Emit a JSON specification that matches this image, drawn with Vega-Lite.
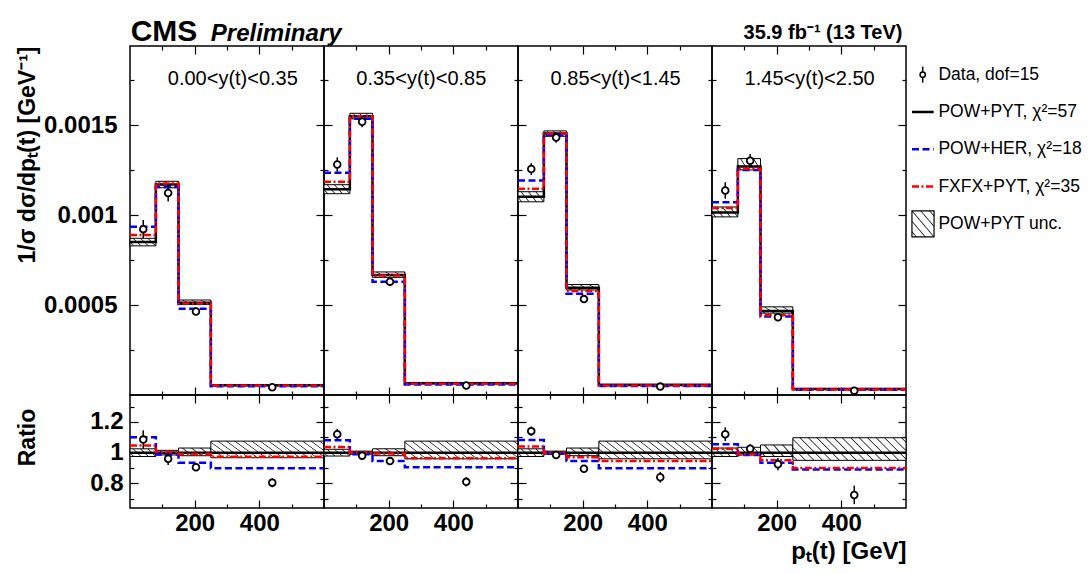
{
  "$schema": "https://vega.github.io/schema/vega-lite/v6.json",
  "background": "#ffffff",
  "padding": {"left": 15, "top": 16, "right": 0, "bottom": 0},
  "datasets": {
    "bins": [
      {"p": 1, "b": 1, "lo": 0, "hi": 80, "xd": 41, "dat": 0.000922, "dlo": 0.000871, "dhi": 0.000973, "ulo": 0.000829, "uhi": 0.000871, "rdat": 1.085, "rdlo": 1.025, "rdhi": 1.145, "rulo": 0.975, "ruhi": 1.025},
      {"p": 1, "b": 2, "lo": 80, "hi": 150, "xd": 118, "dat": 0.001123, "dlo": 0.001076, "dhi": 0.00117, "ulo": 0.001152, "uhi": 0.001188, "rdat": 0.96, "rdlo": 0.92, "rdhi": 1.0, "rulo": 0.985, "ruhi": 1.015},
      {"p": 1, "b": 3, "lo": 150, "hi": 250, "xd": 204, "dat": 0.000464, "dlo": 0.000454, "dhi": 0.000474, "ulo": 0.000503, "uhi": 0.000528, "rdat": 0.905, "rdlo": 0.885, "rdhi": 0.925, "rulo": 0.98, "ruhi": 1.03},
      {"p": 1, "b": 4, "lo": 250, "hi": 600, "xd": 440, "dat": 0.0000432, "dlo": 0.0000416, "dhi": 0.0000448, "ulo": 0.0000519, "uhi": 0.0000577, "rdat": 0.805, "rdlo": 0.775, "rdhi": 0.835, "rulo": 0.967, "ruhi": 1.075},
      {"p": 2, "b": 1, "lo": 0, "hi": 80, "xd": 41, "dat": 0.001281, "dlo": 0.001241, "dhi": 0.001321, "ulo": 0.001119, "uhi": 0.001169, "rdat": 1.12, "rdlo": 1.085, "rdhi": 1.155, "rulo": 0.978, "ruhi": 1.022},
      {"p": 2, "b": 2, "lo": 80, "hi": 150, "xd": 118, "dat": 0.001519, "dlo": 0.001488, "dhi": 0.00155, "ulo": 0.001535, "uhi": 0.001566, "rdat": 0.98, "rdlo": 0.96, "rdhi": 1.0, "rulo": 0.99, "ruhi": 1.01},
      {"p": 2, "b": 3, "lo": 150, "hi": 250, "xd": 204, "dat": 0.00063, "dlo": 0.000617, "dhi": 0.000643, "ulo": 0.000654, "uhi": 0.000684, "rdat": 0.945, "rdlo": 0.925, "rdhi": 0.965, "rulo": 0.98, "ruhi": 1.025},
      {"p": 2, "b": 4, "lo": 250, "hi": 600, "xd": 440, "dat": 0.0000524, "dlo": 0.0000505, "dhi": 0.0000543, "ulo": 0.0000621, "uhi": 0.0000696, "rdat": 0.81, "rdlo": 0.78, "rdhi": 0.84, "rulo": 0.96, "ruhi": 1.075},
      {"p": 3, "b": 1, "lo": 0, "hi": 80, "xd": 41, "dat": 0.001256, "dlo": 0.001223, "dhi": 0.001289, "ulo": 0.001074, "uhi": 0.00113, "rdat": 1.14, "rdlo": 1.11, "rdhi": 1.17, "rulo": 0.975, "ruhi": 1.025},
      {"p": 3, "b": 2, "lo": 80, "hi": 150, "xd": 118, "dat": 0.001431, "dlo": 0.001402, "dhi": 0.00146, "ulo": 0.001438, "uhi": 0.001468, "rdat": 0.985, "rdlo": 0.965, "rdhi": 1.005, "rulo": 0.99, "ruhi": 1.01},
      {"p": 3, "b": 3, "lo": 150, "hi": 250, "xd": 204, "dat": 0.000533, "dlo": 0.000521, "dhi": 0.000545, "ulo": 0.000584, "uhi": 0.000614, "rdat": 0.895, "rdlo": 0.875, "rdhi": 0.915, "rulo": 0.98, "ruhi": 1.03},
      {"p": 3, "b": 4, "lo": 250, "hi": 600, "xd": 440, "dat": 0.0000467, "dlo": 0.0000448, "dhi": 0.0000486, "ulo": 0.0000534, "uhi": 0.0000598, "rdat": 0.84, "rdlo": 0.805, "rdhi": 0.875, "rulo": 0.96, "ruhi": 1.075},
      {"p": 4, "b": 1, "lo": 0, "hi": 80, "xd": 41, "dat": 0.001137, "dlo": 0.001091, "dhi": 0.001183, "ulo": 0.00099, "uhi": 0.001045, "rdat": 1.12, "rdlo": 1.075, "rdhi": 1.165, "rulo": 0.975, "ruhi": 1.03},
      {"p": 4, "b": 2, "lo": 80, "hi": 150, "xd": 118, "dat": 0.001302, "dlo": 0.001264, "dhi": 0.00134, "ulo": 0.001251, "uhi": 0.001314, "rdat": 1.025, "rdlo": 0.995, "rdhi": 1.055, "rulo": 0.985, "ruhi": 1.035},
      {"p": 4, "b": 3, "lo": 150, "hi": 250, "xd": 204, "dat": 0.000432, "dlo": 0.000413, "dhi": 0.000451, "ulo": 0.000455, "uhi": 0.00049, "rdat": 0.925, "rdlo": 0.885, "rdhi": 0.965, "rulo": 0.975, "ruhi": 1.05},
      {"p": 4, "b": 4, "lo": 250, "hi": 600, "xd": 440, "dat": 0.0000241, "dlo": 0.0000221, "dhi": 0.0000261, "ulo": 0.0000316, "uhi": 0.0000365, "rdat": 0.725, "rdlo": 0.665, "rdhi": 0.785, "rulo": 0.95, "ruhi": 1.097}
    ],
    "steps": [
      {"p": 1, "edge": 0, "pyt": 0.00085, "her": 0.000935, "fxfx": 0.00089, "rher": 1.1, "rfxfx": 1.047},
      {"p": 1, "edge": 80, "pyt": 0.00117, "her": 0.001156, "fxfx": 0.001176, "rher": 0.988, "rfxfx": 1.005},
      {"p": 1, "edge": 150, "pyt": 0.000513, "her": 0.00048, "fxfx": 0.000508, "rher": 0.935, "rfxfx": 0.99},
      {"p": 1, "edge": 250, "pyt": 0.0000537, "her": 0.0000482, "fxfx": 0.0000523, "rher": 0.898, "rfxfx": 0.974},
      {"p": 1, "edge": 600, "pyt": 0.0000537, "her": 0.0000482, "fxfx": 0.0000523, "rher": 0.898, "rfxfx": 0.974},
      {"p": 2, "edge": 0, "pyt": 0.001144, "her": 0.001236, "fxfx": 0.001186, "rher": 1.08, "rfxfx": 1.037},
      {"p": 2, "edge": 80, "pyt": 0.00155, "her": 0.001535, "fxfx": 0.00155, "rher": 0.99, "rfxfx": 1.0},
      {"p": 2, "edge": 150, "pyt": 0.000667, "her": 0.00063, "fxfx": 0.000664, "rher": 0.945, "rfxfx": 0.995},
      {"p": 2, "edge": 250, "pyt": 0.0000647, "her": 0.0000586, "fxfx": 0.0000623, "rher": 0.905, "rfxfx": 0.963},
      {"p": 2, "edge": 600, "pyt": 0.0000647, "her": 0.0000586, "fxfx": 0.0000623, "rher": 0.905, "rfxfx": 0.963},
      {"p": 3, "edge": 0, "pyt": 0.001102, "her": 0.001193, "fxfx": 0.001146, "rher": 1.083, "rfxfx": 1.04},
      {"p": 3, "edge": 80, "pyt": 0.001453, "her": 0.001446, "fxfx": 0.001453, "rher": 0.995, "rfxfx": 1.0},
      {"p": 3, "edge": 150, "pyt": 0.000596, "her": 0.000563, "fxfx": 0.000578, "rher": 0.945, "rfxfx": 0.97},
      {"p": 3, "edge": 250, "pyt": 0.0000556, "her": 0.0000499, "fxfx": 0.0000526, "rher": 0.898, "rfxfx": 0.946},
      {"p": 3, "edge": 600, "pyt": 0.0000556, "her": 0.0000499, "fxfx": 0.0000526, "rher": 0.898, "rfxfx": 0.946},
      {"p": 4, "edge": 0, "pyt": 0.001015, "her": 0.001071, "fxfx": 0.00104, "rher": 1.055, "rfxfx": 1.025},
      {"p": 4, "edge": 80, "pyt": 0.00127, "her": 0.001251, "fxfx": 0.001257, "rher": 0.985, "rfxfx": 0.99},
      {"p": 4, "edge": 150, "pyt": 0.000467, "her": 0.000437, "fxfx": 0.000444, "rher": 0.935, "rfxfx": 0.95},
      {"p": 4, "edge": 250, "pyt": 0.0000333, "her": 0.0000296, "fxfx": 0.00003, "rher": 0.89, "rfxfx": 0.9},
      {"p": 4, "edge": 600, "pyt": 0.0000333, "her": 0.0000296, "fxfx": 0.00003, "rher": 0.89, "rfxfx": 0.9}
    ]
  },
  "concat": [
    {
      "width": 194, "height": 349,
      "layer": [
        {"data": {"name": "bins"}, "transform": [{"filter": "datum.p == 1 && datum.b < 4"}], "mark": {"type": "rect", "stroke": "#000", "strokeWidth": 1, "fill": {"gradient": "linear", "x1": 0, "y1": 1, "x2": 1.3, "y2": 0.6, "stops": [{"offset": 0, "color": "#fff"}, {"offset": 0.07, "color": "#fff"}, {"offset": 0.1, "color": "#222"}, {"offset": 0.13, "color": "#fff"}, {"offset": 0.27, "color": "#fff"}, {"offset": 0.3, "color": "#222"}, {"offset": 0.33, "color": "#fff"}, {"offset": 0.47, "color": "#fff"}, {"offset": 0.5, "color": "#222"}, {"offset": 0.53, "color": "#fff"}, {"offset": 0.67, "color": "#fff"}, {"offset": 0.7, "color": "#222"}, {"offset": 0.73, "color": "#fff"}, {"offset": 0.87, "color": "#fff"}, {"offset": 0.9, "color": "#222"}, {"offset": 0.93, "color": "#fff"}, {"offset": 1, "color": "#fff"}]}}, "encoding": {"x": {"field": "lo", "type": "quantitative", "scale": {"domain": [0, 600], "nice": false}, "axis": null}, "x2": {"field": "hi"}, "y": {"field": "ulo", "type": "quantitative", "scale": {"domain": [0, 0.00194], "nice": false}, "axis": null}, "y2": {"field": "uhi"}}},
        {"data": {"name": "bins"}, "transform": [{"filter": "datum.p == 1 && datum.b == 4"}], "mark": {"type": "rect", "stroke": "#000", "strokeWidth": 1, "fill": "#fff"}, "encoding": {"x": {"field": "lo", "type": "quantitative", "scale": {"domain": [0, 600], "nice": false}, "axis": null}, "x2": {"field": "hi"}, "y": {"field": "ulo", "type": "quantitative", "scale": {"domain": [0, 0.00194], "nice": false}, "axis": null}, "y2": {"field": "uhi"}}},
        {"data": {"name": "steps"}, "transform": [{"filter": "datum.p == 1"}], "mark": {"type": "line", "interpolate": "step-after", "color": "#000", "strokeWidth": 2.5}, "encoding": {"x": {"field": "edge", "type": "quantitative", "scale": {"domain": [0, 600], "nice": false}, "axis": {"orient": "bottom", "values": [100, 200, 300, 400, 500], "labels": false, "title": null, "tickSize": {"condition": {"test": "datum.value % 200 === 0", "value": -8}, "value": -4}}}, "y": {"field": "pyt", "type": "quantitative", "scale": {"domain": [0, 0.00194], "nice": false}, "axis": {"orient": "left", "values": [0.00025, 0.0005, 0.00075, 0.001, 0.00125, 0.0015, 0.00175], "labelExpr": "abs(datum.value*2000-round(datum.value*2000))<1e-6 ? format(datum.value, '~g') : ''", "labelPadding": 21, "tickSize": {"condition": {"test": "abs(datum.value*2000-round(datum.value*2000))<1e-6", "value": -8}, "value": -4}, "title": "1/σ dσ/dpₜ(t) [GeV⁻¹]", "titleFontSize": 23, "titleX": -96, "titleY": 0, "titleAngle": -90, "titleAlign": "right", "titleBaseline": "alphabetic"}}}},
        {"data": {"name": "steps"}, "transform": [{"filter": "datum.p == 1"}], "mark": {"type": "line", "interpolate": "step-after", "color": "#0000ff", "strokeWidth": 2.5, "strokeDash": [7, 3.5]}, "encoding": {"x": {"field": "edge", "type": "quantitative", "scale": {"domain": [0, 600], "nice": false}, "axis": {"orient": "top", "values": [100, 200, 300, 400, 500], "labels": false, "title": null, "tickSize": {"condition": {"test": "datum.value % 200 === 0", "value": -8}, "value": -4}}}, "y": {"field": "her", "type": "quantitative", "scale": {"domain": [0, 0.00194], "nice": false}, "axis": {"orient": "right", "values": [0.00025, 0.0005, 0.00075, 0.001, 0.00125, 0.0015, 0.00175], "labels": false, "title": null, "tickSize": {"condition": {"test": "abs(datum.value*2000-round(datum.value*2000))<1e-6", "value": -8}, "value": -4}}}}},
        {"data": {"name": "steps"}, "transform": [{"filter": "datum.p == 1"}], "mark": {"type": "line", "interpolate": "step-after", "color": "#ff0000", "strokeWidth": 2.5, "strokeDash": [7, 2.5, 2, 2.5]}, "encoding": {"x": {"field": "edge", "type": "quantitative", "scale": {"domain": [0, 600], "nice": false}, "axis": null}, "y": {"field": "fxfx", "type": "quantitative", "scale": {"domain": [0, 0.00194], "nice": false}, "axis": null}}},
        {"data": {"name": "bins"}, "transform": [{"filter": "datum.p == 1"}], "mark": {"type": "rule", "color": "#000", "strokeWidth": 1.5}, "encoding": {"x": {"field": "xd", "type": "quantitative", "scale": {"domain": [0, 600], "nice": false}, "axis": null}, "y": {"field": "dlo", "type": "quantitative", "scale": {"domain": [0, 0.00194], "nice": false}, "axis": null}, "y2": {"field": "dhi"}}},
        {"data": {"name": "bins"}, "transform": [{"filter": "datum.p == 1"}], "mark": {"type": "point", "shape": "circle", "size": 45, "filled": true, "fill": "#fff", "stroke": "#000", "strokeWidth": 1.8, "opacity": 1}, "encoding": {"x": {"field": "xd", "type": "quantitative", "scale": {"domain": [0, 600], "nice": false}, "axis": null}, "y": {"field": "dat", "type": "quantitative", "scale": {"domain": [0, 0.00194], "nice": false}, "axis": null}}},
        {"data": {"values": [{"label": "0.00<y(t)<0.35"}]}, "mark": {"type": "text", "fontSize": 20, "align": "center", "baseline": "alphabetic"}, "encoding": {"x": {"datum": 318, "type": "quantitative", "scale": {"domain": [0, 600], "nice": false}, "axis": null}, "y": {"datum": 0.001723, "type": "quantitative", "scale": {"domain": [0, 0.00194], "nice": false}, "axis": null}, "text": {"field": "label"}}},
        {"data": {"values": [{"label": "CMS"}]}, "mark": {"type": "text", "fontSize": 30, "fontWeight": "bold", "align": "left", "baseline": "alphabetic"}, "encoding": {"x": {"datum": 2, "type": "quantitative", "scale": {"domain": [0, 600], "nice": false}, "axis": null}, "y": {"datum": 0.001968, "type": "quantitative", "scale": {"domain": [0, 0.00194], "nice": false}, "axis": null}, "text": {"field": "label"}}},
        {"data": {"values": [{"label": "Preliminary"}]}, "mark": {"type": "text", "fontSize": 24, "fontWeight": "bold", "fontStyle": "italic", "align": "left", "baseline": "alphabetic"}, "encoding": {"x": {"datum": 250, "type": "quantitative", "scale": {"domain": [0, 600], "nice": false}, "axis": null}, "y": {"datum": 0.001968, "type": "quantitative", "scale": {"domain": [0, 0.00194], "nice": false}, "axis": null}, "text": {"field": "label"}}}
      ],
      "resolve": {"axis": {"x": "independent", "y": "independent"}}
    },
    {
      "width": 194, "height": 349,
      "layer": [
        {"data": {"name": "bins"}, "transform": [{"filter": "datum.p == 2 && datum.b < 4"}], "mark": {"type": "rect", "stroke": "#000", "strokeWidth": 1, "fill": {"gradient": "linear", "x1": 0, "y1": 1, "x2": 1.3, "y2": 0.6, "stops": [{"offset": 0, "color": "#fff"}, {"offset": 0.07, "color": "#fff"}, {"offset": 0.1, "color": "#222"}, {"offset": 0.13, "color": "#fff"}, {"offset": 0.27, "color": "#fff"}, {"offset": 0.3, "color": "#222"}, {"offset": 0.33, "color": "#fff"}, {"offset": 0.47, "color": "#fff"}, {"offset": 0.5, "color": "#222"}, {"offset": 0.53, "color": "#fff"}, {"offset": 0.67, "color": "#fff"}, {"offset": 0.7, "color": "#222"}, {"offset": 0.73, "color": "#fff"}, {"offset": 0.87, "color": "#fff"}, {"offset": 0.9, "color": "#222"}, {"offset": 0.93, "color": "#fff"}, {"offset": 1, "color": "#fff"}]}}, "encoding": {"x": {"field": "lo", "type": "quantitative", "scale": {"domain": [0, 600], "nice": false}, "axis": null}, "x2": {"field": "hi"}, "y": {"field": "ulo", "type": "quantitative", "scale": {"domain": [0, 0.00194], "nice": false}, "axis": null}, "y2": {"field": "uhi"}}},
        {"data": {"name": "bins"}, "transform": [{"filter": "datum.p == 2 && datum.b == 4"}], "mark": {"type": "rect", "stroke": "#000", "strokeWidth": 1, "fill": "#fff"}, "encoding": {"x": {"field": "lo", "type": "quantitative", "scale": {"domain": [0, 600], "nice": false}, "axis": null}, "x2": {"field": "hi"}, "y": {"field": "ulo", "type": "quantitative", "scale": {"domain": [0, 0.00194], "nice": false}, "axis": null}, "y2": {"field": "uhi"}}},
        {"data": {"name": "steps"}, "transform": [{"filter": "datum.p == 2"}], "mark": {"type": "line", "interpolate": "step-after", "color": "#000", "strokeWidth": 2.5}, "encoding": {"x": {"field": "edge", "type": "quantitative", "scale": {"domain": [0, 600], "nice": false}, "axis": {"orient": "bottom", "values": [100, 200, 300, 400, 500], "labels": false, "title": null, "tickSize": {"condition": {"test": "datum.value % 200 === 0", "value": -8}, "value": -4}}}, "y": {"field": "pyt", "type": "quantitative", "scale": {"domain": [0, 0.00194], "nice": false}, "axis": {"orient": "left", "values": [0.00025, 0.0005, 0.00075, 0.001, 0.00125, 0.0015, 0.00175], "labels": false, "title": null, "tickSize": {"condition": {"test": "abs(datum.value*2000-round(datum.value*2000))<1e-6", "value": -8}, "value": -4}}}}},
        {"data": {"name": "steps"}, "transform": [{"filter": "datum.p == 2"}], "mark": {"type": "line", "interpolate": "step-after", "color": "#0000ff", "strokeWidth": 2.5, "strokeDash": [7, 3.5]}, "encoding": {"x": {"field": "edge", "type": "quantitative", "scale": {"domain": [0, 600], "nice": false}, "axis": {"orient": "top", "values": [100, 200, 300, 400, 500], "labels": false, "title": null, "tickSize": {"condition": {"test": "datum.value % 200 === 0", "value": -8}, "value": -4}}}, "y": {"field": "her", "type": "quantitative", "scale": {"domain": [0, 0.00194], "nice": false}, "axis": {"orient": "right", "values": [0.00025, 0.0005, 0.00075, 0.001, 0.00125, 0.0015, 0.00175], "labels": false, "title": null, "tickSize": {"condition": {"test": "abs(datum.value*2000-round(datum.value*2000))<1e-6", "value": -8}, "value": -4}}}}},
        {"data": {"name": "steps"}, "transform": [{"filter": "datum.p == 2"}], "mark": {"type": "line", "interpolate": "step-after", "color": "#ff0000", "strokeWidth": 2.5, "strokeDash": [7, 2.5, 2, 2.5]}, "encoding": {"x": {"field": "edge", "type": "quantitative", "scale": {"domain": [0, 600], "nice": false}, "axis": null}, "y": {"field": "fxfx", "type": "quantitative", "scale": {"domain": [0, 0.00194], "nice": false}, "axis": null}}},
        {"data": {"name": "bins"}, "transform": [{"filter": "datum.p == 2"}], "mark": {"type": "rule", "color": "#000", "strokeWidth": 1.5}, "encoding": {"x": {"field": "xd", "type": "quantitative", "scale": {"domain": [0, 600], "nice": false}, "axis": null}, "y": {"field": "dlo", "type": "quantitative", "scale": {"domain": [0, 0.00194], "nice": false}, "axis": null}, "y2": {"field": "dhi"}}},
        {"data": {"name": "bins"}, "transform": [{"filter": "datum.p == 2"}], "mark": {"type": "point", "shape": "circle", "size": 45, "filled": true, "fill": "#fff", "stroke": "#000", "strokeWidth": 1.8, "opacity": 1}, "encoding": {"x": {"field": "xd", "type": "quantitative", "scale": {"domain": [0, 600], "nice": false}, "axis": null}, "y": {"field": "dat", "type": "quantitative", "scale": {"domain": [0, 0.00194], "nice": false}, "axis": null}}},
        {"data": {"values": [{"label": "0.35<y(t)<0.85"}]}, "mark": {"type": "text", "fontSize": 20, "align": "center", "baseline": "alphabetic"}, "encoding": {"x": {"datum": 301, "type": "quantitative", "scale": {"domain": [0, 600], "nice": false}, "axis": null}, "y": {"datum": 0.001723, "type": "quantitative", "scale": {"domain": [0, 0.00194], "nice": false}, "axis": null}, "text": {"field": "label"}}}
      ],
      "resolve": {"axis": {"x": "independent", "y": "independent"}}
    },
    {
      "width": 194, "height": 349,
      "layer": [
        {"data": {"name": "bins"}, "transform": [{"filter": "datum.p == 3 && datum.b < 4"}], "mark": {"type": "rect", "stroke": "#000", "strokeWidth": 1, "fill": {"gradient": "linear", "x1": 0, "y1": 1, "x2": 1.3, "y2": 0.6, "stops": [{"offset": 0, "color": "#fff"}, {"offset": 0.07, "color": "#fff"}, {"offset": 0.1, "color": "#222"}, {"offset": 0.13, "color": "#fff"}, {"offset": 0.27, "color": "#fff"}, {"offset": 0.3, "color": "#222"}, {"offset": 0.33, "color": "#fff"}, {"offset": 0.47, "color": "#fff"}, {"offset": 0.5, "color": "#222"}, {"offset": 0.53, "color": "#fff"}, {"offset": 0.67, "color": "#fff"}, {"offset": 0.7, "color": "#222"}, {"offset": 0.73, "color": "#fff"}, {"offset": 0.87, "color": "#fff"}, {"offset": 0.9, "color": "#222"}, {"offset": 0.93, "color": "#fff"}, {"offset": 1, "color": "#fff"}]}}, "encoding": {"x": {"field": "lo", "type": "quantitative", "scale": {"domain": [0, 600], "nice": false}, "axis": null}, "x2": {"field": "hi"}, "y": {"field": "ulo", "type": "quantitative", "scale": {"domain": [0, 0.00194], "nice": false}, "axis": null}, "y2": {"field": "uhi"}}},
        {"data": {"name": "bins"}, "transform": [{"filter": "datum.p == 3 && datum.b == 4"}], "mark": {"type": "rect", "stroke": "#000", "strokeWidth": 1, "fill": "#fff"}, "encoding": {"x": {"field": "lo", "type": "quantitative", "scale": {"domain": [0, 600], "nice": false}, "axis": null}, "x2": {"field": "hi"}, "y": {"field": "ulo", "type": "quantitative", "scale": {"domain": [0, 0.00194], "nice": false}, "axis": null}, "y2": {"field": "uhi"}}},
        {"data": {"name": "steps"}, "transform": [{"filter": "datum.p == 3"}], "mark": {"type": "line", "interpolate": "step-after", "color": "#000", "strokeWidth": 2.5}, "encoding": {"x": {"field": "edge", "type": "quantitative", "scale": {"domain": [0, 600], "nice": false}, "axis": {"orient": "bottom", "values": [100, 200, 300, 400, 500], "labels": false, "title": null, "tickSize": {"condition": {"test": "datum.value % 200 === 0", "value": -8}, "value": -4}}}, "y": {"field": "pyt", "type": "quantitative", "scale": {"domain": [0, 0.00194], "nice": false}, "axis": {"orient": "left", "values": [0.00025, 0.0005, 0.00075, 0.001, 0.00125, 0.0015, 0.00175], "labels": false, "title": null, "tickSize": {"condition": {"test": "abs(datum.value*2000-round(datum.value*2000))<1e-6", "value": -8}, "value": -4}}}}},
        {"data": {"name": "steps"}, "transform": [{"filter": "datum.p == 3"}], "mark": {"type": "line", "interpolate": "step-after", "color": "#0000ff", "strokeWidth": 2.5, "strokeDash": [7, 3.5]}, "encoding": {"x": {"field": "edge", "type": "quantitative", "scale": {"domain": [0, 600], "nice": false}, "axis": {"orient": "top", "values": [100, 200, 300, 400, 500], "labels": false, "title": null, "tickSize": {"condition": {"test": "datum.value % 200 === 0", "value": -8}, "value": -4}}}, "y": {"field": "her", "type": "quantitative", "scale": {"domain": [0, 0.00194], "nice": false}, "axis": {"orient": "right", "values": [0.00025, 0.0005, 0.00075, 0.001, 0.00125, 0.0015, 0.00175], "labels": false, "title": null, "tickSize": {"condition": {"test": "abs(datum.value*2000-round(datum.value*2000))<1e-6", "value": -8}, "value": -4}}}}},
        {"data": {"name": "steps"}, "transform": [{"filter": "datum.p == 3"}], "mark": {"type": "line", "interpolate": "step-after", "color": "#ff0000", "strokeWidth": 2.5, "strokeDash": [7, 2.5, 2, 2.5]}, "encoding": {"x": {"field": "edge", "type": "quantitative", "scale": {"domain": [0, 600], "nice": false}, "axis": null}, "y": {"field": "fxfx", "type": "quantitative", "scale": {"domain": [0, 0.00194], "nice": false}, "axis": null}}},
        {"data": {"name": "bins"}, "transform": [{"filter": "datum.p == 3"}], "mark": {"type": "rule", "color": "#000", "strokeWidth": 1.5}, "encoding": {"x": {"field": "xd", "type": "quantitative", "scale": {"domain": [0, 600], "nice": false}, "axis": null}, "y": {"field": "dlo", "type": "quantitative", "scale": {"domain": [0, 0.00194], "nice": false}, "axis": null}, "y2": {"field": "dhi"}}},
        {"data": {"name": "bins"}, "transform": [{"filter": "datum.p == 3"}], "mark": {"type": "point", "shape": "circle", "size": 45, "filled": true, "fill": "#fff", "stroke": "#000", "strokeWidth": 1.8, "opacity": 1}, "encoding": {"x": {"field": "xd", "type": "quantitative", "scale": {"domain": [0, 600], "nice": false}, "axis": null}, "y": {"field": "dat", "type": "quantitative", "scale": {"domain": [0, 0.00194], "nice": false}, "axis": null}}},
        {"data": {"values": [{"label": "0.85<y(t)<1.45"}]}, "mark": {"type": "text", "fontSize": 20, "align": "center", "baseline": "alphabetic"}, "encoding": {"x": {"datum": 302, "type": "quantitative", "scale": {"domain": [0, 600], "nice": false}, "axis": null}, "y": {"datum": 0.001723, "type": "quantitative", "scale": {"domain": [0, 0.00194], "nice": false}, "axis": null}, "text": {"field": "label"}}}
      ],
      "resolve": {"axis": {"x": "independent", "y": "independent"}}
    },
    {
      "width": 194, "height": 349,
      "layer": [
        {"data": {"name": "bins"}, "transform": [{"filter": "datum.p == 4 && datum.b < 4"}], "mark": {"type": "rect", "stroke": "#000", "strokeWidth": 1, "fill": {"gradient": "linear", "x1": 0, "y1": 1, "x2": 1.3, "y2": 0.6, "stops": [{"offset": 0, "color": "#fff"}, {"offset": 0.07, "color": "#fff"}, {"offset": 0.1, "color": "#222"}, {"offset": 0.13, "color": "#fff"}, {"offset": 0.27, "color": "#fff"}, {"offset": 0.3, "color": "#222"}, {"offset": 0.33, "color": "#fff"}, {"offset": 0.47, "color": "#fff"}, {"offset": 0.5, "color": "#222"}, {"offset": 0.53, "color": "#fff"}, {"offset": 0.67, "color": "#fff"}, {"offset": 0.7, "color": "#222"}, {"offset": 0.73, "color": "#fff"}, {"offset": 0.87, "color": "#fff"}, {"offset": 0.9, "color": "#222"}, {"offset": 0.93, "color": "#fff"}, {"offset": 1, "color": "#fff"}]}}, "encoding": {"x": {"field": "lo", "type": "quantitative", "scale": {"domain": [0, 600], "nice": false}, "axis": null}, "x2": {"field": "hi"}, "y": {"field": "ulo", "type": "quantitative", "scale": {"domain": [0, 0.00194], "nice": false}, "axis": null}, "y2": {"field": "uhi"}}},
        {"data": {"name": "bins"}, "transform": [{"filter": "datum.p == 4 && datum.b == 4"}], "mark": {"type": "rect", "stroke": "#000", "strokeWidth": 1, "fill": "#fff"}, "encoding": {"x": {"field": "lo", "type": "quantitative", "scale": {"domain": [0, 600], "nice": false}, "axis": null}, "x2": {"field": "hi"}, "y": {"field": "ulo", "type": "quantitative", "scale": {"domain": [0, 0.00194], "nice": false}, "axis": null}, "y2": {"field": "uhi"}}},
        {"data": {"name": "steps"}, "transform": [{"filter": "datum.p == 4"}], "mark": {"type": "line", "interpolate": "step-after", "color": "#000", "strokeWidth": 2.5}, "encoding": {"x": {"field": "edge", "type": "quantitative", "scale": {"domain": [0, 600], "nice": false}, "axis": {"orient": "bottom", "values": [100, 200, 300, 400, 500], "labels": false, "title": null, "tickSize": {"condition": {"test": "datum.value % 200 === 0", "value": -8}, "value": -4}}}, "y": {"field": "pyt", "type": "quantitative", "scale": {"domain": [0, 0.00194], "nice": false}, "axis": {"orient": "left", "values": [0.00025, 0.0005, 0.00075, 0.001, 0.00125, 0.0015, 0.00175], "labels": false, "title": null, "tickSize": {"condition": {"test": "abs(datum.value*2000-round(datum.value*2000))<1e-6", "value": -8}, "value": -4}}}}},
        {"data": {"name": "steps"}, "transform": [{"filter": "datum.p == 4"}], "mark": {"type": "line", "interpolate": "step-after", "color": "#0000ff", "strokeWidth": 2.5, "strokeDash": [7, 3.5]}, "encoding": {"x": {"field": "edge", "type": "quantitative", "scale": {"domain": [0, 600], "nice": false}, "axis": {"orient": "top", "values": [100, 200, 300, 400, 500], "labels": false, "title": null, "tickSize": {"condition": {"test": "datum.value % 200 === 0", "value": -8}, "value": -4}}}, "y": {"field": "her", "type": "quantitative", "scale": {"domain": [0, 0.00194], "nice": false}, "axis": {"orient": "right", "values": [0.00025, 0.0005, 0.00075, 0.001, 0.00125, 0.0015, 0.00175], "labels": false, "title": null, "tickSize": {"condition": {"test": "abs(datum.value*2000-round(datum.value*2000))<1e-6", "value": -8}, "value": -4}}}}},
        {"data": {"name": "steps"}, "transform": [{"filter": "datum.p == 4"}], "mark": {"type": "line", "interpolate": "step-after", "color": "#ff0000", "strokeWidth": 2.5, "strokeDash": [7, 2.5, 2, 2.5]}, "encoding": {"x": {"field": "edge", "type": "quantitative", "scale": {"domain": [0, 600], "nice": false}, "axis": null}, "y": {"field": "fxfx", "type": "quantitative", "scale": {"domain": [0, 0.00194], "nice": false}, "axis": null}}},
        {"data": {"name": "bins"}, "transform": [{"filter": "datum.p == 4"}], "mark": {"type": "rule", "color": "#000", "strokeWidth": 1.5}, "encoding": {"x": {"field": "xd", "type": "quantitative", "scale": {"domain": [0, 600], "nice": false}, "axis": null}, "y": {"field": "dlo", "type": "quantitative", "scale": {"domain": [0, 0.00194], "nice": false}, "axis": null}, "y2": {"field": "dhi"}}},
        {"data": {"name": "bins"}, "transform": [{"filter": "datum.p == 4"}], "mark": {"type": "point", "shape": "circle", "size": 45, "filled": true, "fill": "#fff", "stroke": "#000", "strokeWidth": 1.8, "opacity": 1}, "encoding": {"x": {"field": "xd", "type": "quantitative", "scale": {"domain": [0, 600], "nice": false}, "axis": null}, "y": {"field": "dat", "type": "quantitative", "scale": {"domain": [0, 0.00194], "nice": false}, "axis": null}}},
        {"data": {"values": [{"label": "1.45<y(t)<2.50"}]}, "mark": {"type": "text", "fontSize": 20, "align": "center", "baseline": "alphabetic"}, "encoding": {"x": {"datum": 302, "type": "quantitative", "scale": {"domain": [0, 600], "nice": false}, "axis": null}, "y": {"datum": 0.001723, "type": "quantitative", "scale": {"domain": [0, 0.00194], "nice": false}, "axis": null}, "text": {"field": "label"}}},
        {"data": {"values": [{"label": "35.9 fb⁻¹ (13 TeV)"}]}, "mark": {"type": "text", "fontSize": 20, "fontWeight": "bold", "align": "right", "baseline": "alphabetic"}, "encoding": {"x": {"datum": 589, "type": "quantitative", "scale": {"domain": [0, 600], "nice": false}, "axis": null}, "y": {"datum": 0.00198, "type": "quantitative", "scale": {"domain": [0, 0.00194], "nice": false}, "axis": null}, "text": {"field": "label"}}}
      ],
      "resolve": {"axis": {"x": "independent", "y": "independent"}}
    },
    {
      "width": 175, "height": 200,
      "view": {"stroke": null},
      "data": {"values": [
        {"row": 0, "label": "Data, dof=15"},
        {"row": 1, "label": "POW+PYT, χ²=57"},
        {"row": 2, "label": "POW+HER, χ²=18"},
        {"row": 3, "label": "FXFX+PYT, χ²=35"},
        {"row": 4, "label": "POW+PYT unc."}
      ]},
      "layer": [
        {"mark": {"type": "text", "fontSize": 17.5, "align": "left", "baseline": "middle"}, "encoding": {"x": {"datum": 26.4, "type": "quantitative", "scale": {"domain": [-6, 169], "nice": false}, "axis": null}, "y": {"field": "row", "type": "quantitative", "scale": {"domain": [-0.769, 4.593], "nice": false, "reverse": true}, "axis": null}, "text": {"field": "label"}}},
        {"transform": [{"filter": "datum.row == 0"}], "mark": {"type": "point", "shape": "M0,-1L0,1", "size": 256, "filled": false, "stroke": "#000", "strokeWidth": 1.5, "opacity": 1}, "encoding": {"x": {"datum": 10.7, "type": "quantitative", "scale": {"domain": [-6, 169], "nice": false}, "axis": null}, "y": {"field": "row", "type": "quantitative", "scale": {"domain": [-0.769, 4.593], "nice": false, "reverse": true}, "axis": null}}},
        {"transform": [{"filter": "datum.row == 0"}], "mark": {"type": "point", "shape": "circle", "size": 28, "filled": true, "fill": "#fff", "stroke": "#000", "strokeWidth": 1.5, "opacity": 1}, "encoding": {"x": {"datum": 10.7, "type": "quantitative", "scale": {"domain": [-6, 169], "nice": false}, "axis": null}, "y": {"field": "row", "type": "quantitative", "scale": {"domain": [-0.769, 4.593], "nice": false, "reverse": true}, "axis": null}}},
        {"transform": [{"filter": "datum.row == 1"}], "mark": {"type": "rule", "color": "#000", "strokeWidth": 2.5}, "encoding": {"x": {"datum": 0, "type": "quantitative", "scale": {"domain": [-6, 169], "nice": false}, "axis": null}, "x2": {"datum": 21.7}, "y": {"field": "row", "type": "quantitative", "scale": {"domain": [-0.769, 4.593], "nice": false, "reverse": true}, "axis": null}}},
        {"transform": [{"filter": "datum.row == 2"}], "mark": {"type": "rule", "color": "#0000ff", "strokeWidth": 2.5, "strokeDash": [7, 3.5]}, "encoding": {"x": {"datum": 0, "type": "quantitative", "scale": {"domain": [-6, 169], "nice": false}, "axis": null}, "x2": {"datum": 21.7}, "y": {"field": "row", "type": "quantitative", "scale": {"domain": [-0.769, 4.593], "nice": false, "reverse": true}, "axis": null}}},
        {"transform": [{"filter": "datum.row == 3"}], "mark": {"type": "rule", "color": "#ff0000", "strokeWidth": 2.5, "strokeDash": [7, 2.5, 2, 2.5]}, "encoding": {"x": {"datum": 0, "type": "quantitative", "scale": {"domain": [-6, 169], "nice": false}, "axis": null}, "x2": {"datum": 21.7}, "y": {"field": "row", "type": "quantitative", "scale": {"domain": [-0.769, 4.593], "nice": false, "reverse": true}, "axis": null}}},
        {"transform": [{"filter": "datum.row == 4"}], "mark": {"type": "point", "shape": "M-0.85,-1L0.85,-1L0.85,1L-0.85,1Z", "size": 676, "filled": true, "stroke": "#000", "strokeWidth": 1.2, "opacity": 1, "fill": {"gradient": "linear", "x1": 0, "y1": 1, "x2": 1, "y2": 0, "stops": [{"offset": 0, "color": "#fff"}, {"offset": 0.075, "color": "#fff"}, {"offset": 0.1, "color": "#222"}, {"offset": 0.125, "color": "#fff"}, {"offset": 0.275, "color": "#fff"}, {"offset": 0.3, "color": "#222"}, {"offset": 0.325, "color": "#fff"}, {"offset": 0.475, "color": "#fff"}, {"offset": 0.5, "color": "#222"}, {"offset": 0.525, "color": "#fff"}, {"offset": 0.675, "color": "#fff"}, {"offset": 0.7, "color": "#222"}, {"offset": 0.725, "color": "#fff"}, {"offset": 0.875, "color": "#fff"}, {"offset": 0.9, "color": "#222"}, {"offset": 0.925, "color": "#fff"}, {"offset": 1, "color": "#fff"}]}}, "encoding": {"x": {"datum": 11, "type": "quantitative", "scale": {"domain": [-6, 169], "nice": false}, "axis": null}, "y": {"field": "row", "type": "quantitative", "scale": {"domain": [-0.769, 4.593], "nice": false, "reverse": true}, "axis": null}}}
      ]
    },
    {
      "width": 194, "height": 113,
      "layer": [
        {"data": {"name": "bins"}, "transform": [{"filter": "datum.p == 1 && datum.b < 4"}], "mark": {"type": "rect", "stroke": "#000", "strokeWidth": 1, "fill": {"gradient": "linear", "x1": 0, "y1": 1, "x2": 1.3, "y2": 0.6, "stops": [{"offset": 0, "color": "#fff"}, {"offset": 0.07, "color": "#fff"}, {"offset": 0.1, "color": "#222"}, {"offset": 0.13, "color": "#fff"}, {"offset": 0.27, "color": "#fff"}, {"offset": 0.3, "color": "#222"}, {"offset": 0.33, "color": "#fff"}, {"offset": 0.47, "color": "#fff"}, {"offset": 0.5, "color": "#222"}, {"offset": 0.53, "color": "#fff"}, {"offset": 0.67, "color": "#fff"}, {"offset": 0.7, "color": "#222"}, {"offset": 0.73, "color": "#fff"}, {"offset": 0.87, "color": "#fff"}, {"offset": 0.9, "color": "#222"}, {"offset": 0.93, "color": "#fff"}, {"offset": 1, "color": "#fff"}]}}, "encoding": {"x": {"field": "lo", "type": "quantitative", "scale": {"domain": [0, 600], "nice": false}, "axis": null}, "x2": {"field": "hi"}, "y": {"field": "rulo", "type": "quantitative", "scale": {"domain": [0.64, 1.375], "nice": false}, "axis": null}, "y2": {"field": "ruhi"}}},
        {"data": {"name": "bins"}, "transform": [{"filter": "datum.p == 1 && datum.b == 4"}], "mark": {"type": "rect", "stroke": "#000", "strokeWidth": 1, "fill": {"gradient": "linear", "x1": 0, "y1": 1, "x2": 1.2, "y2": 0.76, "stops": [{"offset": 0, "color": "#fff"}, {"offset": 0.022, "color": "#fff"}, {"offset": 0.03, "color": "#222"}, {"offset": 0.038, "color": "#fff"}, {"offset": 0.082, "color": "#fff"}, {"offset": 0.09, "color": "#222"}, {"offset": 0.098, "color": "#fff"}, {"offset": 0.142, "color": "#fff"}, {"offset": 0.15, "color": "#222"}, {"offset": 0.158, "color": "#fff"}, {"offset": 0.202, "color": "#fff"}, {"offset": 0.21, "color": "#222"}, {"offset": 0.218, "color": "#fff"}, {"offset": 0.262, "color": "#fff"}, {"offset": 0.27, "color": "#222"}, {"offset": 0.278, "color": "#fff"}, {"offset": 0.322, "color": "#fff"}, {"offset": 0.33, "color": "#222"}, {"offset": 0.338, "color": "#fff"}, {"offset": 0.382, "color": "#fff"}, {"offset": 0.39, "color": "#222"}, {"offset": 0.398, "color": "#fff"}, {"offset": 0.442, "color": "#fff"}, {"offset": 0.45, "color": "#222"}, {"offset": 0.458, "color": "#fff"}, {"offset": 0.502, "color": "#fff"}, {"offset": 0.51, "color": "#222"}, {"offset": 0.518, "color": "#fff"}, {"offset": 0.562, "color": "#fff"}, {"offset": 0.57, "color": "#222"}, {"offset": 0.578, "color": "#fff"}, {"offset": 0.622, "color": "#fff"}, {"offset": 0.63, "color": "#222"}, {"offset": 0.638, "color": "#fff"}, {"offset": 0.682, "color": "#fff"}, {"offset": 0.69, "color": "#222"}, {"offset": 0.698, "color": "#fff"}, {"offset": 0.742, "color": "#fff"}, {"offset": 0.75, "color": "#222"}, {"offset": 0.758, "color": "#fff"}, {"offset": 0.802, "color": "#fff"}, {"offset": 0.81, "color": "#222"}, {"offset": 0.818, "color": "#fff"}, {"offset": 0.862, "color": "#fff"}, {"offset": 0.87, "color": "#222"}, {"offset": 0.878, "color": "#fff"}, {"offset": 0.922, "color": "#fff"}, {"offset": 0.93, "color": "#222"}, {"offset": 0.938, "color": "#fff"}, {"offset": 1, "color": "#fff"}]}}, "encoding": {"x": {"field": "lo", "type": "quantitative", "scale": {"domain": [0, 600], "nice": false}, "axis": null}, "x2": {"field": "hi"}, "y": {"field": "rulo", "type": "quantitative", "scale": {"domain": [0.64, 1.375], "nice": false}, "axis": null}, "y2": {"field": "ruhi"}}},
        {"data": {"values": [{}]}, "mark": {"type": "rule", "color": "#000", "strokeWidth": 2.5}, "encoding": {"y": {"datum": 1, "type": "quantitative", "scale": {"domain": [0.64, 1.375], "nice": false}, "axis": null}}},
        {"data": {"name": "steps"}, "transform": [{"filter": "datum.p == 1"}], "mark": {"type": "line", "interpolate": "step-after", "color": "#0000ff", "strokeWidth": 2.5, "strokeDash": [7, 3.5]}, "encoding": {"x": {"field": "edge", "type": "quantitative", "scale": {"domain": [0, 600], "nice": false}, "axis": {"orient": "bottom", "values": [100, 200, 300, 400, 500], "labelExpr": "datum.value % 200 === 0 ? datum.label : ''", "labelPadding": 11, "title": null, "tickSize": {"condition": {"test": "datum.value % 200 === 0", "value": -8}, "value": -4}}}, "y": {"field": "rher", "type": "quantitative", "scale": {"domain": [0.64, 1.375], "nice": false}, "axis": {"orient": "left", "values": [0.7, 0.8, 0.9, 1, 1.1, 1.2, 1.3], "labelExpr": "abs(datum.value*5-round(datum.value*5))<1e-6 ? format(datum.value, '~g') : ''", "labelPadding": 15, "tickSize": {"condition": {"test": "abs(datum.value*5-round(datum.value*5))<1e-6", "value": -8}, "value": -4}, "title": "Ratio", "titleFontSize": 23, "titleX": -96, "titleY": 42, "titleAngle": -90, "titleAlign": "center", "titleBaseline": "alphabetic"}}}},
        {"data": {"name": "steps"}, "transform": [{"filter": "datum.p == 1"}], "mark": {"type": "line", "interpolate": "step-after", "color": "#ff0000", "strokeWidth": 2.5, "strokeDash": [7, 2.5, 2, 2.5]}, "encoding": {"x": {"field": "edge", "type": "quantitative", "scale": {"domain": [0, 600], "nice": false}, "axis": {"orient": "top", "values": [100, 200, 300, 400, 500], "labels": false, "title": null, "tickSize": {"condition": {"test": "datum.value % 200 === 0", "value": -8}, "value": -4}}}, "y": {"field": "rfxfx", "type": "quantitative", "scale": {"domain": [0.64, 1.375], "nice": false}, "axis": {"orient": "right", "values": [0.7, 0.8, 0.9, 1, 1.1, 1.2, 1.3], "labels": false, "title": null, "tickSize": {"condition": {"test": "abs(datum.value*5-round(datum.value*5))<1e-6", "value": -8}, "value": -4}}}}},
        {"data": {"name": "bins"}, "transform": [{"filter": "datum.p == 1"}], "mark": {"type": "rule", "color": "#000", "strokeWidth": 1.5}, "encoding": {"x": {"field": "xd", "type": "quantitative", "scale": {"domain": [0, 600], "nice": false}, "axis": null}, "y": {"field": "rdlo", "type": "quantitative", "scale": {"domain": [0.64, 1.375], "nice": false}, "axis": null}, "y2": {"field": "rdhi"}}},
        {"data": {"name": "bins"}, "transform": [{"filter": "datum.p == 1"}], "mark": {"type": "point", "shape": "circle", "size": 45, "filled": true, "fill": "#fff", "stroke": "#000", "strokeWidth": 1.8, "opacity": 1}, "encoding": {"x": {"field": "xd", "type": "quantitative", "scale": {"domain": [0, 600], "nice": false}, "axis": null}, "y": {"field": "rdat", "type": "quantitative", "scale": {"domain": [0.64, 1.375], "nice": false}, "axis": null}}}
      ],
      "resolve": {"axis": {"x": "independent", "y": "independent"}}
    },
    {
      "width": 194, "height": 113,
      "layer": [
        {"data": {"name": "bins"}, "transform": [{"filter": "datum.p == 2 && datum.b < 4"}], "mark": {"type": "rect", "stroke": "#000", "strokeWidth": 1, "fill": {"gradient": "linear", "x1": 0, "y1": 1, "x2": 1.3, "y2": 0.6, "stops": [{"offset": 0, "color": "#fff"}, {"offset": 0.07, "color": "#fff"}, {"offset": 0.1, "color": "#222"}, {"offset": 0.13, "color": "#fff"}, {"offset": 0.27, "color": "#fff"}, {"offset": 0.3, "color": "#222"}, {"offset": 0.33, "color": "#fff"}, {"offset": 0.47, "color": "#fff"}, {"offset": 0.5, "color": "#222"}, {"offset": 0.53, "color": "#fff"}, {"offset": 0.67, "color": "#fff"}, {"offset": 0.7, "color": "#222"}, {"offset": 0.73, "color": "#fff"}, {"offset": 0.87, "color": "#fff"}, {"offset": 0.9, "color": "#222"}, {"offset": 0.93, "color": "#fff"}, {"offset": 1, "color": "#fff"}]}}, "encoding": {"x": {"field": "lo", "type": "quantitative", "scale": {"domain": [0, 600], "nice": false}, "axis": null}, "x2": {"field": "hi"}, "y": {"field": "rulo", "type": "quantitative", "scale": {"domain": [0.64, 1.375], "nice": false}, "axis": null}, "y2": {"field": "ruhi"}}},
        {"data": {"name": "bins"}, "transform": [{"filter": "datum.p == 2 && datum.b == 4"}], "mark": {"type": "rect", "stroke": "#000", "strokeWidth": 1, "fill": {"gradient": "linear", "x1": 0, "y1": 1, "x2": 1.2, "y2": 0.76, "stops": [{"offset": 0, "color": "#fff"}, {"offset": 0.022, "color": "#fff"}, {"offset": 0.03, "color": "#222"}, {"offset": 0.038, "color": "#fff"}, {"offset": 0.082, "color": "#fff"}, {"offset": 0.09, "color": "#222"}, {"offset": 0.098, "color": "#fff"}, {"offset": 0.142, "color": "#fff"}, {"offset": 0.15, "color": "#222"}, {"offset": 0.158, "color": "#fff"}, {"offset": 0.202, "color": "#fff"}, {"offset": 0.21, "color": "#222"}, {"offset": 0.218, "color": "#fff"}, {"offset": 0.262, "color": "#fff"}, {"offset": 0.27, "color": "#222"}, {"offset": 0.278, "color": "#fff"}, {"offset": 0.322, "color": "#fff"}, {"offset": 0.33, "color": "#222"}, {"offset": 0.338, "color": "#fff"}, {"offset": 0.382, "color": "#fff"}, {"offset": 0.39, "color": "#222"}, {"offset": 0.398, "color": "#fff"}, {"offset": 0.442, "color": "#fff"}, {"offset": 0.45, "color": "#222"}, {"offset": 0.458, "color": "#fff"}, {"offset": 0.502, "color": "#fff"}, {"offset": 0.51, "color": "#222"}, {"offset": 0.518, "color": "#fff"}, {"offset": 0.562, "color": "#fff"}, {"offset": 0.57, "color": "#222"}, {"offset": 0.578, "color": "#fff"}, {"offset": 0.622, "color": "#fff"}, {"offset": 0.63, "color": "#222"}, {"offset": 0.638, "color": "#fff"}, {"offset": 0.682, "color": "#fff"}, {"offset": 0.69, "color": "#222"}, {"offset": 0.698, "color": "#fff"}, {"offset": 0.742, "color": "#fff"}, {"offset": 0.75, "color": "#222"}, {"offset": 0.758, "color": "#fff"}, {"offset": 0.802, "color": "#fff"}, {"offset": 0.81, "color": "#222"}, {"offset": 0.818, "color": "#fff"}, {"offset": 0.862, "color": "#fff"}, {"offset": 0.87, "color": "#222"}, {"offset": 0.878, "color": "#fff"}, {"offset": 0.922, "color": "#fff"}, {"offset": 0.93, "color": "#222"}, {"offset": 0.938, "color": "#fff"}, {"offset": 1, "color": "#fff"}]}}, "encoding": {"x": {"field": "lo", "type": "quantitative", "scale": {"domain": [0, 600], "nice": false}, "axis": null}, "x2": {"field": "hi"}, "y": {"field": "rulo", "type": "quantitative", "scale": {"domain": [0.64, 1.375], "nice": false}, "axis": null}, "y2": {"field": "ruhi"}}},
        {"data": {"values": [{}]}, "mark": {"type": "rule", "color": "#000", "strokeWidth": 2.5}, "encoding": {"y": {"datum": 1, "type": "quantitative", "scale": {"domain": [0.64, 1.375], "nice": false}, "axis": null}}},
        {"data": {"name": "steps"}, "transform": [{"filter": "datum.p == 2"}], "mark": {"type": "line", "interpolate": "step-after", "color": "#0000ff", "strokeWidth": 2.5, "strokeDash": [7, 3.5]}, "encoding": {"x": {"field": "edge", "type": "quantitative", "scale": {"domain": [0, 600], "nice": false}, "axis": {"orient": "bottom", "values": [100, 200, 300, 400, 500], "labelExpr": "datum.value % 200 === 0 ? datum.label : ''", "labelPadding": 11, "title": null, "tickSize": {"condition": {"test": "datum.value % 200 === 0", "value": -8}, "value": -4}}}, "y": {"field": "rher", "type": "quantitative", "scale": {"domain": [0.64, 1.375], "nice": false}, "axis": {"orient": "left", "values": [0.7, 0.8, 0.9, 1, 1.1, 1.2, 1.3], "labels": false, "title": null, "tickSize": {"condition": {"test": "abs(datum.value*5-round(datum.value*5))<1e-6", "value": -8}, "value": -4}}}}},
        {"data": {"name": "steps"}, "transform": [{"filter": "datum.p == 2"}], "mark": {"type": "line", "interpolate": "step-after", "color": "#ff0000", "strokeWidth": 2.5, "strokeDash": [7, 2.5, 2, 2.5]}, "encoding": {"x": {"field": "edge", "type": "quantitative", "scale": {"domain": [0, 600], "nice": false}, "axis": {"orient": "top", "values": [100, 200, 300, 400, 500], "labels": false, "title": null, "tickSize": {"condition": {"test": "datum.value % 200 === 0", "value": -8}, "value": -4}}}, "y": {"field": "rfxfx", "type": "quantitative", "scale": {"domain": [0.64, 1.375], "nice": false}, "axis": {"orient": "right", "values": [0.7, 0.8, 0.9, 1, 1.1, 1.2, 1.3], "labels": false, "title": null, "tickSize": {"condition": {"test": "abs(datum.value*5-round(datum.value*5))<1e-6", "value": -8}, "value": -4}}}}},
        {"data": {"name": "bins"}, "transform": [{"filter": "datum.p == 2"}], "mark": {"type": "rule", "color": "#000", "strokeWidth": 1.5}, "encoding": {"x": {"field": "xd", "type": "quantitative", "scale": {"domain": [0, 600], "nice": false}, "axis": null}, "y": {"field": "rdlo", "type": "quantitative", "scale": {"domain": [0.64, 1.375], "nice": false}, "axis": null}, "y2": {"field": "rdhi"}}},
        {"data": {"name": "bins"}, "transform": [{"filter": "datum.p == 2"}], "mark": {"type": "point", "shape": "circle", "size": 45, "filled": true, "fill": "#fff", "stroke": "#000", "strokeWidth": 1.8, "opacity": 1}, "encoding": {"x": {"field": "xd", "type": "quantitative", "scale": {"domain": [0, 600], "nice": false}, "axis": null}, "y": {"field": "rdat", "type": "quantitative", "scale": {"domain": [0.64, 1.375], "nice": false}, "axis": null}}}
      ],
      "resolve": {"axis": {"x": "independent", "y": "independent"}}
    },
    {
      "width": 194, "height": 113,
      "layer": [
        {"data": {"name": "bins"}, "transform": [{"filter": "datum.p == 3 && datum.b < 4"}], "mark": {"type": "rect", "stroke": "#000", "strokeWidth": 1, "fill": {"gradient": "linear", "x1": 0, "y1": 1, "x2": 1.3, "y2": 0.6, "stops": [{"offset": 0, "color": "#fff"}, {"offset": 0.07, "color": "#fff"}, {"offset": 0.1, "color": "#222"}, {"offset": 0.13, "color": "#fff"}, {"offset": 0.27, "color": "#fff"}, {"offset": 0.3, "color": "#222"}, {"offset": 0.33, "color": "#fff"}, {"offset": 0.47, "color": "#fff"}, {"offset": 0.5, "color": "#222"}, {"offset": 0.53, "color": "#fff"}, {"offset": 0.67, "color": "#fff"}, {"offset": 0.7, "color": "#222"}, {"offset": 0.73, "color": "#fff"}, {"offset": 0.87, "color": "#fff"}, {"offset": 0.9, "color": "#222"}, {"offset": 0.93, "color": "#fff"}, {"offset": 1, "color": "#fff"}]}}, "encoding": {"x": {"field": "lo", "type": "quantitative", "scale": {"domain": [0, 600], "nice": false}, "axis": null}, "x2": {"field": "hi"}, "y": {"field": "rulo", "type": "quantitative", "scale": {"domain": [0.64, 1.375], "nice": false}, "axis": null}, "y2": {"field": "ruhi"}}},
        {"data": {"name": "bins"}, "transform": [{"filter": "datum.p == 3 && datum.b == 4"}], "mark": {"type": "rect", "stroke": "#000", "strokeWidth": 1, "fill": {"gradient": "linear", "x1": 0, "y1": 1, "x2": 1.2, "y2": 0.76, "stops": [{"offset": 0, "color": "#fff"}, {"offset": 0.022, "color": "#fff"}, {"offset": 0.03, "color": "#222"}, {"offset": 0.038, "color": "#fff"}, {"offset": 0.082, "color": "#fff"}, {"offset": 0.09, "color": "#222"}, {"offset": 0.098, "color": "#fff"}, {"offset": 0.142, "color": "#fff"}, {"offset": 0.15, "color": "#222"}, {"offset": 0.158, "color": "#fff"}, {"offset": 0.202, "color": "#fff"}, {"offset": 0.21, "color": "#222"}, {"offset": 0.218, "color": "#fff"}, {"offset": 0.262, "color": "#fff"}, {"offset": 0.27, "color": "#222"}, {"offset": 0.278, "color": "#fff"}, {"offset": 0.322, "color": "#fff"}, {"offset": 0.33, "color": "#222"}, {"offset": 0.338, "color": "#fff"}, {"offset": 0.382, "color": "#fff"}, {"offset": 0.39, "color": "#222"}, {"offset": 0.398, "color": "#fff"}, {"offset": 0.442, "color": "#fff"}, {"offset": 0.45, "color": "#222"}, {"offset": 0.458, "color": "#fff"}, {"offset": 0.502, "color": "#fff"}, {"offset": 0.51, "color": "#222"}, {"offset": 0.518, "color": "#fff"}, {"offset": 0.562, "color": "#fff"}, {"offset": 0.57, "color": "#222"}, {"offset": 0.578, "color": "#fff"}, {"offset": 0.622, "color": "#fff"}, {"offset": 0.63, "color": "#222"}, {"offset": 0.638, "color": "#fff"}, {"offset": 0.682, "color": "#fff"}, {"offset": 0.69, "color": "#222"}, {"offset": 0.698, "color": "#fff"}, {"offset": 0.742, "color": "#fff"}, {"offset": 0.75, "color": "#222"}, {"offset": 0.758, "color": "#fff"}, {"offset": 0.802, "color": "#fff"}, {"offset": 0.81, "color": "#222"}, {"offset": 0.818, "color": "#fff"}, {"offset": 0.862, "color": "#fff"}, {"offset": 0.87, "color": "#222"}, {"offset": 0.878, "color": "#fff"}, {"offset": 0.922, "color": "#fff"}, {"offset": 0.93, "color": "#222"}, {"offset": 0.938, "color": "#fff"}, {"offset": 1, "color": "#fff"}]}}, "encoding": {"x": {"field": "lo", "type": "quantitative", "scale": {"domain": [0, 600], "nice": false}, "axis": null}, "x2": {"field": "hi"}, "y": {"field": "rulo", "type": "quantitative", "scale": {"domain": [0.64, 1.375], "nice": false}, "axis": null}, "y2": {"field": "ruhi"}}},
        {"data": {"values": [{}]}, "mark": {"type": "rule", "color": "#000", "strokeWidth": 2.5}, "encoding": {"y": {"datum": 1, "type": "quantitative", "scale": {"domain": [0.64, 1.375], "nice": false}, "axis": null}}},
        {"data": {"name": "steps"}, "transform": [{"filter": "datum.p == 3"}], "mark": {"type": "line", "interpolate": "step-after", "color": "#0000ff", "strokeWidth": 2.5, "strokeDash": [7, 3.5]}, "encoding": {"x": {"field": "edge", "type": "quantitative", "scale": {"domain": [0, 600], "nice": false}, "axis": {"orient": "bottom", "values": [100, 200, 300, 400, 500], "labelExpr": "datum.value % 200 === 0 ? datum.label : ''", "labelPadding": 11, "title": null, "tickSize": {"condition": {"test": "datum.value % 200 === 0", "value": -8}, "value": -4}}}, "y": {"field": "rher", "type": "quantitative", "scale": {"domain": [0.64, 1.375], "nice": false}, "axis": {"orient": "left", "values": [0.7, 0.8, 0.9, 1, 1.1, 1.2, 1.3], "labels": false, "title": null, "tickSize": {"condition": {"test": "abs(datum.value*5-round(datum.value*5))<1e-6", "value": -8}, "value": -4}}}}},
        {"data": {"name": "steps"}, "transform": [{"filter": "datum.p == 3"}], "mark": {"type": "line", "interpolate": "step-after", "color": "#ff0000", "strokeWidth": 2.5, "strokeDash": [7, 2.5, 2, 2.5]}, "encoding": {"x": {"field": "edge", "type": "quantitative", "scale": {"domain": [0, 600], "nice": false}, "axis": {"orient": "top", "values": [100, 200, 300, 400, 500], "labels": false, "title": null, "tickSize": {"condition": {"test": "datum.value % 200 === 0", "value": -8}, "value": -4}}}, "y": {"field": "rfxfx", "type": "quantitative", "scale": {"domain": [0.64, 1.375], "nice": false}, "axis": {"orient": "right", "values": [0.7, 0.8, 0.9, 1, 1.1, 1.2, 1.3], "labels": false, "title": null, "tickSize": {"condition": {"test": "abs(datum.value*5-round(datum.value*5))<1e-6", "value": -8}, "value": -4}}}}},
        {"data": {"name": "bins"}, "transform": [{"filter": "datum.p == 3"}], "mark": {"type": "rule", "color": "#000", "strokeWidth": 1.5}, "encoding": {"x": {"field": "xd", "type": "quantitative", "scale": {"domain": [0, 600], "nice": false}, "axis": null}, "y": {"field": "rdlo", "type": "quantitative", "scale": {"domain": [0.64, 1.375], "nice": false}, "axis": null}, "y2": {"field": "rdhi"}}},
        {"data": {"name": "bins"}, "transform": [{"filter": "datum.p == 3"}], "mark": {"type": "point", "shape": "circle", "size": 45, "filled": true, "fill": "#fff", "stroke": "#000", "strokeWidth": 1.8, "opacity": 1}, "encoding": {"x": {"field": "xd", "type": "quantitative", "scale": {"domain": [0, 600], "nice": false}, "axis": null}, "y": {"field": "rdat", "type": "quantitative", "scale": {"domain": [0.64, 1.375], "nice": false}, "axis": null}}}
      ],
      "resolve": {"axis": {"x": "independent", "y": "independent"}}
    },
    {
      "width": 194, "height": 113,
      "layer": [
        {"data": {"name": "bins"}, "transform": [{"filter": "datum.p == 4 && datum.b < 4"}], "mark": {"type": "rect", "stroke": "#000", "strokeWidth": 1, "fill": {"gradient": "linear", "x1": 0, "y1": 1, "x2": 1.3, "y2": 0.6, "stops": [{"offset": 0, "color": "#fff"}, {"offset": 0.07, "color": "#fff"}, {"offset": 0.1, "color": "#222"}, {"offset": 0.13, "color": "#fff"}, {"offset": 0.27, "color": "#fff"}, {"offset": 0.3, "color": "#222"}, {"offset": 0.33, "color": "#fff"}, {"offset": 0.47, "color": "#fff"}, {"offset": 0.5, "color": "#222"}, {"offset": 0.53, "color": "#fff"}, {"offset": 0.67, "color": "#fff"}, {"offset": 0.7, "color": "#222"}, {"offset": 0.73, "color": "#fff"}, {"offset": 0.87, "color": "#fff"}, {"offset": 0.9, "color": "#222"}, {"offset": 0.93, "color": "#fff"}, {"offset": 1, "color": "#fff"}]}}, "encoding": {"x": {"field": "lo", "type": "quantitative", "scale": {"domain": [0, 600], "nice": false}, "axis": null}, "x2": {"field": "hi"}, "y": {"field": "rulo", "type": "quantitative", "scale": {"domain": [0.64, 1.375], "nice": false}, "axis": null}, "y2": {"field": "ruhi"}}},
        {"data": {"name": "bins"}, "transform": [{"filter": "datum.p == 4 && datum.b == 4"}], "mark": {"type": "rect", "stroke": "#000", "strokeWidth": 1, "fill": {"gradient": "linear", "x1": 0, "y1": 1, "x2": 1.2, "y2": 0.76, "stops": [{"offset": 0, "color": "#fff"}, {"offset": 0.022, "color": "#fff"}, {"offset": 0.03, "color": "#222"}, {"offset": 0.038, "color": "#fff"}, {"offset": 0.082, "color": "#fff"}, {"offset": 0.09, "color": "#222"}, {"offset": 0.098, "color": "#fff"}, {"offset": 0.142, "color": "#fff"}, {"offset": 0.15, "color": "#222"}, {"offset": 0.158, "color": "#fff"}, {"offset": 0.202, "color": "#fff"}, {"offset": 0.21, "color": "#222"}, {"offset": 0.218, "color": "#fff"}, {"offset": 0.262, "color": "#fff"}, {"offset": 0.27, "color": "#222"}, {"offset": 0.278, "color": "#fff"}, {"offset": 0.322, "color": "#fff"}, {"offset": 0.33, "color": "#222"}, {"offset": 0.338, "color": "#fff"}, {"offset": 0.382, "color": "#fff"}, {"offset": 0.39, "color": "#222"}, {"offset": 0.398, "color": "#fff"}, {"offset": 0.442, "color": "#fff"}, {"offset": 0.45, "color": "#222"}, {"offset": 0.458, "color": "#fff"}, {"offset": 0.502, "color": "#fff"}, {"offset": 0.51, "color": "#222"}, {"offset": 0.518, "color": "#fff"}, {"offset": 0.562, "color": "#fff"}, {"offset": 0.57, "color": "#222"}, {"offset": 0.578, "color": "#fff"}, {"offset": 0.622, "color": "#fff"}, {"offset": 0.63, "color": "#222"}, {"offset": 0.638, "color": "#fff"}, {"offset": 0.682, "color": "#fff"}, {"offset": 0.69, "color": "#222"}, {"offset": 0.698, "color": "#fff"}, {"offset": 0.742, "color": "#fff"}, {"offset": 0.75, "color": "#222"}, {"offset": 0.758, "color": "#fff"}, {"offset": 0.802, "color": "#fff"}, {"offset": 0.81, "color": "#222"}, {"offset": 0.818, "color": "#fff"}, {"offset": 0.862, "color": "#fff"}, {"offset": 0.87, "color": "#222"}, {"offset": 0.878, "color": "#fff"}, {"offset": 0.922, "color": "#fff"}, {"offset": 0.93, "color": "#222"}, {"offset": 0.938, "color": "#fff"}, {"offset": 1, "color": "#fff"}]}}, "encoding": {"x": {"field": "lo", "type": "quantitative", "scale": {"domain": [0, 600], "nice": false}, "axis": null}, "x2": {"field": "hi"}, "y": {"field": "rulo", "type": "quantitative", "scale": {"domain": [0.64, 1.375], "nice": false}, "axis": null}, "y2": {"field": "ruhi"}}},
        {"data": {"values": [{}]}, "mark": {"type": "rule", "color": "#000", "strokeWidth": 2.5}, "encoding": {"y": {"datum": 1, "type": "quantitative", "scale": {"domain": [0.64, 1.375], "nice": false}, "axis": null}}},
        {"data": {"name": "steps"}, "transform": [{"filter": "datum.p == 4"}], "mark": {"type": "line", "interpolate": "step-after", "color": "#0000ff", "strokeWidth": 2.5, "strokeDash": [7, 3.5]}, "encoding": {"x": {"field": "edge", "type": "quantitative", "scale": {"domain": [0, 600], "nice": false}, "axis": {"orient": "bottom", "values": [100, 200, 300, 400, 500], "labelExpr": "datum.value % 200 === 0 ? datum.label : ''", "labelPadding": 11, "tickSize": {"condition": {"test": "datum.value % 200 === 0", "value": -8}, "value": -4}, "title": "pₜ(t) [GeV]", "titleX": 194, "titleY": 50, "titleAlign": "right", "titleAnchor": "end", "titleBaseline": "alphabetic", "titleFontSize": 24}}, "y": {"field": "rher", "type": "quantitative", "scale": {"domain": [0.64, 1.375], "nice": false}, "axis": {"orient": "left", "values": [0.7, 0.8, 0.9, 1, 1.1, 1.2, 1.3], "labels": false, "title": null, "tickSize": {"condition": {"test": "abs(datum.value*5-round(datum.value*5))<1e-6", "value": -8}, "value": -4}}}}},
        {"data": {"name": "steps"}, "transform": [{"filter": "datum.p == 4"}], "mark": {"type": "line", "interpolate": "step-after", "color": "#ff0000", "strokeWidth": 2.5, "strokeDash": [7, 2.5, 2, 2.5]}, "encoding": {"x": {"field": "edge", "type": "quantitative", "scale": {"domain": [0, 600], "nice": false}, "axis": {"orient": "top", "values": [100, 200, 300, 400, 500], "labels": false, "title": null, "tickSize": {"condition": {"test": "datum.value % 200 === 0", "value": -8}, "value": -4}}}, "y": {"field": "rfxfx", "type": "quantitative", "scale": {"domain": [0.64, 1.375], "nice": false}, "axis": {"orient": "right", "values": [0.7, 0.8, 0.9, 1, 1.1, 1.2, 1.3], "labels": false, "title": null, "tickSize": {"condition": {"test": "abs(datum.value*5-round(datum.value*5))<1e-6", "value": -8}, "value": -4}}}}},
        {"data": {"name": "bins"}, "transform": [{"filter": "datum.p == 4"}], "mark": {"type": "rule", "color": "#000", "strokeWidth": 1.5}, "encoding": {"x": {"field": "xd", "type": "quantitative", "scale": {"domain": [0, 600], "nice": false}, "axis": null}, "y": {"field": "rdlo", "type": "quantitative", "scale": {"domain": [0.64, 1.375], "nice": false}, "axis": null}, "y2": {"field": "rdhi"}}},
        {"data": {"name": "bins"}, "transform": [{"filter": "datum.p == 4"}], "mark": {"type": "point", "shape": "circle", "size": 45, "filled": true, "fill": "#fff", "stroke": "#000", "strokeWidth": 1.8, "opacity": 1}, "encoding": {"x": {"field": "xd", "type": "quantitative", "scale": {"domain": [0, 600], "nice": false}, "axis": null}, "y": {"field": "rdat", "type": "quantitative", "scale": {"domain": [0.64, 1.375], "nice": false}, "axis": null}}}
      ],
      "resolve": {"axis": {"x": "independent", "y": "independent"}}
    }
  ],
  "columns": 5,
  "spacing": 0,
  "bounds": "flush",
  "align": "each",
  "config": {
    "font": "Liberation Sans",
    "view": {"stroke": "#000", "strokeWidth": 1.5},
    "axis": {"domain": false, "grid": false, "tickColor": "#000", "tickWidth": 1.2, "labelColor": "#000", "labelFontSize": 24, "labelFontWeight": "bold", "labelOverlap": false, "labelFlush": false, "titleColor": "#000", "titleFontSize": 22, "titleFontWeight": "bold"},
    "text": {"color": "#000"}
  }
}
